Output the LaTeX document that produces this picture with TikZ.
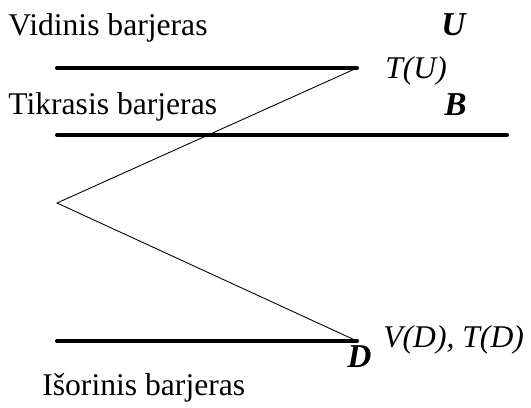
\documentclass[tikz,border=0pt]{standalone}
\usepackage{fontspec}
\setmainfont{Liberation Serif}
\usepackage{tikz}
\usetikzlibrary{positioning}

\begin{document}
\begin{tikzpicture}[
  x=0.02cm, y=-0.02cm,
  barrier/.style={line width=2.3pt, line cap=round},
  route/.style={line width=0.5pt},
  title/.style={anchor=base west, inner sep=0pt, font=\fontsize{18}{20}\selectfont},
  level/.style={anchor=base west, inner sep=0pt, font=\fontsize{18}{20}\selectfont\itshape},
  letter/.style={anchor=base west, inner sep=0pt, font=\fontsize{19}{21}\selectfont\bfseries\itshape}
]
\useasboundingbox (0,0) rectangle (531,407);

% barrier ends
\coordinate (u0) at (57,68);
\coordinate (u1) at (357,68);
\coordinate (b0) at (57,135);
\coordinate (b1) at (507,135);
\coordinate (d0) at (57,341);
\coordinate (d1) at (357,341);
\coordinate (apex) at (57,203);

\draw[barrier] (u0) -- (u1);
\draw[barrier] (b0) -- (b1);
\draw[barrier] (d0) -- (d1);
\draw[route] (u1) -- (apex) -- (d1);

\node[title] (inner) at (8,35) {Vidinis barjeras};
\node[title] (real) at (8,114) {Tikrasis barjeras};
\node[title] (outer) at (42,395) {Išorinis barjeras};

\node[letter] (U) at (441,35) {U};
\node[letter] (B) at (444,115) {B};
\node[letter] (D) at (347,367) {D};

\node[level] (TU) at (385,78) {T(U)};
\node[level] (VD) at (383,347) {V(D), T(D)};
\end{tikzpicture}
\end{document}
